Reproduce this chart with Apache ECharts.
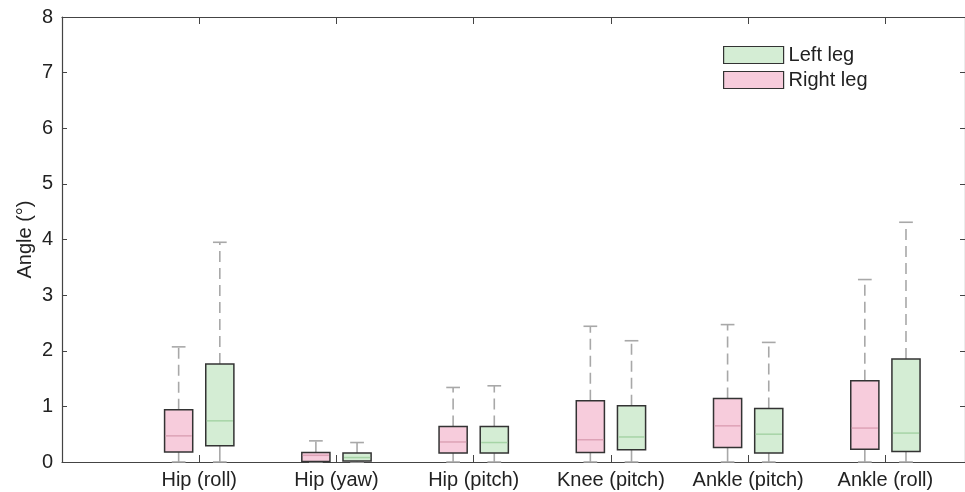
<!DOCTYPE html>
<html>
<head>
<meta charset="utf-8">
<script src="https://cdn.jsdelivr.net/npm/echarts@6/dist/echarts.min.js"></script>
<style>
html,body{margin:0;padding:0;background:#fff;overflow:hidden;width:965px;height:492px;}
#chart{width:968px;height:492px;}
</style>
</head>
<body>
<div id="chart"></div>
<script>
// Categories (x tick labels)
const categories = ['Hip (roll)', 'Hip (yaw)', 'Hip (pitch)', 'Knee (pitch)', 'Ankle (pitch)', 'Ankle (roll)'];
const yTicks = [0, 1, 2, 3, 4, 5, 6, 7, 8];
const seriesNames = ['Left leg', 'Right leg'];

// Right leg: [lower whisker, Q1, median, Q3, upper whisker]
const rightMin    = [0, 0, 0, 0, 0, 0];
const rightQ1     = [0.18, 0.01, 0.16, 0.17, 0.26, 0.23];
const rightMedian = [0.47, 0.12, 0.36, 0.40, 0.65, 0.61];
const rightQ3     = [0.94, 0.17, 0.64, 1.10, 1.14, 1.46];
const rightMax    = [2.07, 0.38, 1.34, 2.44, 2.47, 3.28];

// Left leg
const leftMin    = [0, 0, 0, 0, 0, 0];
const leftQ1     = [0.29, 0.02, 0.16, 0.22, 0.16, 0.19];
const leftMedian = [0.74, 0.08, 0.35, 0.45, 0.50, 0.52];
const leftQ3     = [1.76, 0.16, 0.64, 1.01, 0.96, 1.85];
const leftMax    = [3.95, 0.35, 1.37, 2.18, 2.15, 4.31];

const pinkFill = '#f7ccdc', pinkMed = '#dda2b6';
const greenFill = '#d4edd4', greenMed = '#a6d4a6';
const boxBorder = '#333333';
const whiskerColor = '#a8a8a8';
const BOX_W = 0.205, CAP_W = 0.1, OFFSET = 0.15;

function build(mins, q1, med, q3, maxs) {
  return categories.map((c, i) => [i + 1, mins[i], q1[i], med[i], q3[i], maxs[i]]);
}

function makeRender(offset, fill, medColor) {
  return function (params, api) {
    const x = api.value(0) + offset;
    const pMin = api.coord([x, api.value(1)]);
    const pQ1 = api.coord([x, api.value(2)]);
    const pMed = api.coord([x, api.value(3)]);
    const pQ3 = api.coord([x, api.value(4)]);
    const pMax = api.coord([x, api.value(5)]);
    const w = api.size([BOX_W, 0])[0];
    const cw = api.size([CAP_W, 0])[0];
    const cx = pMed[0];
    const wStyle = { stroke: whiskerColor, lineWidth: 1.6, lineDash: [11, 6] };
    const cStyle = { stroke: whiskerColor, lineWidth: 1.6 };
    return {
      type: 'group',
      children: [
        { type: 'line', shape: { x1: cx, y1: pQ3[1], x2: cx, y2: pMax[1] }, style: wStyle },
        { type: 'line', shape: { x1: cx - cw / 2, y1: pMax[1], x2: cx + cw / 2, y2: pMax[1] }, style: cStyle },
        { type: 'line', shape: { x1: cx, y1: pQ1[1], x2: cx, y2: pMin[1] }, style: cStyle },
        { type: 'line', shape: { x1: cx - cw / 2, y1: pMin[1], x2: cx + cw / 2, y2: pMin[1] }, style: cStyle },
        { type: 'rect', shape: { x: cx - w / 2, y: pQ3[1], width: w, height: pQ1[1] - pQ3[1] },
          style: { fill: fill, stroke: boxBorder, lineWidth: 1.5 } },
        { type: 'line', shape: { x1: cx - w / 2 + 1, y1: pMed[1], x2: cx + w / 2 - 1, y2: pMed[1] },
          style: { stroke: medColor, lineWidth: 1.5 } }
      ]
    };
  };
}

const chart = echarts.init(document.getElementById('chart'), null, { renderer: 'canvas' });
const font = 'Liberation Sans';
const FS = 20;
const axisLineStyle = { color: '#444', width: 1.2 };

chart.setOption({
  animation: false,
  backgroundColor: '#fff',
  textStyle: { fontFamily: font },
  grid: { left: 62, right: 1, top: 17, bottom: 30 },
  legend: {
    orient: 'vertical',
    left: 718, top: 40,
    itemWidth: 60, itemHeight: 17, itemGap: 5,
    icon: 'rect',
    textStyle: { fontSize: FS, color: '#222', fontFamily: font },
    data: [
      { name: seriesNames[0], itemStyle: { color: greenFill, borderColor: boxBorder, borderWidth: 1.2 } },
      { name: seriesNames[1], itemStyle: { color: pinkFill, borderColor: boxBorder, borderWidth: 1.2 } }
    ]
  },
  xAxis: [
    {
      type: 'value', min: 0, max: 6.58, interval: 1,
      axisLine: { show: true, onZero: false, lineStyle: axisLineStyle },
      axisTick: { show: true, inside: true, length: 7, lineStyle: { color: '#444' } },
      splitLine: { show: false },
      axisLabel: {
        fontSize: FS, color: '#222', margin: 8, fontFamily: font,
        formatter: v => (Number.isInteger(v) && v >= 1 && v <= categories.length) ? categories[v - 1] : ''
      }
    },
    {
      type: 'value', min: 0, max: 6.58, interval: 1, position: 'top',
      axisLine: { show: true, onZero: false, lineStyle: axisLineStyle },
      axisTick: { show: true, inside: true, length: 7, lineStyle: { color: '#444' } },
      splitLine: { show: false },
      axisLabel: { show: false }
    }
  ],
  yAxis: [
    {
      type: 'value', min: yTicks[0], max: yTicks[yTicks.length - 1], interval: 1,
      name: 'Angle (°)', nameLocation: 'middle', nameGap: 27, nameMoveOverlap: false,
      nameTextStyle: { fontSize: FS, color: '#222', fontFamily: font },
      axisLine: { show: true, onZero: false, lineStyle: axisLineStyle },
      axisTick: { show: true, inside: true, length: 5, lineStyle: { color: '#444' } },
      splitLine: { show: false },
      axisLabel: { fontSize: FS, color: '#222', margin: 9, fontFamily: font }
    },
    {
      type: 'value', min: yTicks[0], max: yTicks[yTicks.length - 1], interval: 1, position: 'right',
      axisLine: { show: true, onZero: false, lineStyle: axisLineStyle },
      axisTick: { show: true, inside: true, length: 5, lineStyle: { color: '#444' } },
      splitLine: { show: false },
      axisLabel: { show: false }
    }
  ],
  series: [
    {
      name: seriesNames[1], type: 'custom', xAxisIndex: 0, yAxisIndex: 0,
      itemStyle: { color: pinkFill, borderColor: boxBorder },
      renderItem: makeRender(-OFFSET, pinkFill, pinkMed),
      encode: { x: 0, y: [1, 2, 3, 4, 5] },
      data: build(rightMin, rightQ1, rightMedian, rightQ3, rightMax)
    },
    {
      name: seriesNames[0], type: 'custom', xAxisIndex: 0, yAxisIndex: 0,
      itemStyle: { color: greenFill, borderColor: boxBorder },
      renderItem: makeRender(OFFSET, greenFill, greenMed),
      encode: { x: 0, y: [1, 2, 3, 4, 5] },
      data: build(leftMin, leftQ1, leftMedian, leftQ3, leftMax)
    }
  ]
});
</script>
</body>
</html>
